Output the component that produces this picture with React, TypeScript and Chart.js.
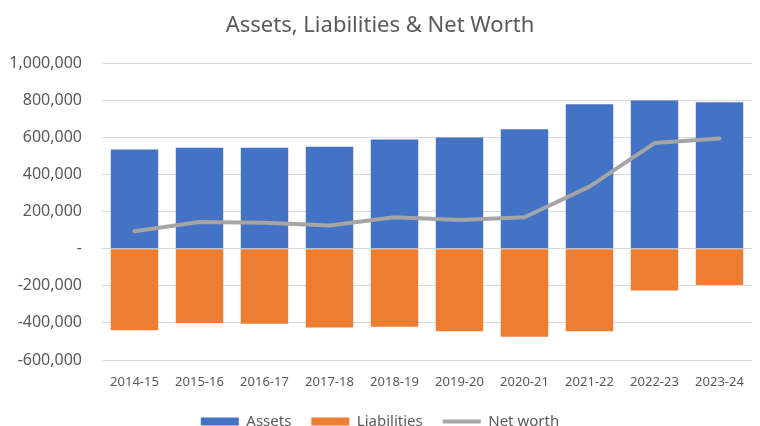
import React, { useEffect, useRef } from "react";
import { Chart, registerables } from "chart.js";

Chart.register(...registerables);

const categories = ["2014-15", "2015-16", "2016-17", "2017-18", "2018-19", "2019-20", "2020-21", "2021-22", "2022-23", "2023-24"];
const assets = [535000, 545000, 545000, 550000, 590000, 600000, 645000, 780000, 800000, 790000];
const liabilities = [-440000, -400000, -405000, -425000, -420000, -445000, -475000, -445000, -225000, -195000];
const netWorth = [95000, 145000, 140000, 125000, 170000, 155000, 170000, 335000, 570000, 595000];

const FONT = "'Noto Sans', sans-serif";
const TEXT = "#595959";

export default function App() {
  const ref = useRef<HTMLCanvasElement | null>(null);
  useEffect(() => {
    document.body.style.margin = "0";
    const canvas = ref.current;
    if (!canvas) return;
    const chart = new Chart(canvas, {
      data: {
        labels: categories,
        datasets: [
          {
            type: "bar",
            label: "Assets",
            data: assets,
            backgroundColor: "#4472C4",
            barPercentage: 0.73,
            categoryPercentage: 1,
            pointStyle: "rect",
            order: 1,
          },
          {
            type: "bar",
            label: "Liabilities",
            data: liabilities,
            backgroundColor: "#ED7D31",
            barPercentage: 0.73,
            categoryPercentage: 1,
            pointStyle: "rect",
            order: 1,
          },
          {
            type: "line",
            label: "Net worth",
            data: netWorth,
            borderColor: "#A5A5A5",
            backgroundColor: "#A5A5A5",
            borderWidth: 4,
            pointRadius: 0,
            pointStyle: "line",
            tension: 0,
            borderCapStyle: "round",
            borderJoinStyle: "round",
            order: 0,
          },
        ],
      } as any,
      options: {
        responsive: false,
        animation: false,
        layout: { padding: { left: 8, right: 8, top: 0, bottom: -13 } },
        scales: {
          x: {
            stacked: true,
            grid: { display: false, drawTicks: false },
            border: { display: false },
            ticks: { color: TEXT, font: { family: FONT, size: 13 }, padding: 14, maxRotation: 0, autoSkip: false },
            afterFit: (s: any) => {
              s.height = 34;
            },
          },
          y: {
            min: -600000,
            max: 1000000,
            grid: { color: "#D9D9D9", drawTicks: false, lineWidth: 1 },
            border: { display: false },
            ticks: {
              stepSize: 200000,
              color: TEXT,
              padding: 20,
              font: { family: FONT, size: 16 },
              callback: (v: any) => (Number(v) === 0 ? "-" : Number(v).toLocaleString("en-US")),
            },
            afterFit: (s: any) => {
              s.width = 94;
            },
          },
        },
        plugins: {
          title: {
            display: true,
            text: "Assets, Liabilities & Net Worth",
            color: TEXT,
            font: { family: FONT, size: 22, weight: "normal" },
            padding: { top: 13, bottom: 24 },
          },
          legend: {
            position: "bottom",
            labels: {
              usePointStyle: true,
              pointStyleWidth: 38,
              boxHeight: 8,
              color: TEXT,
              padding: 20,
              font: { family: FONT, size: 15 },
              sort: (a: any, b: any) => a.datasetIndex - b.datasetIndex,
            },
          },
          tooltip: { enabled: false },
        },
      } as any,
    });
    return () => chart.destroy();
  }, []);
  return <canvas ref={ref} width={760} height={426} style={{ display: "block" }} />;
}
